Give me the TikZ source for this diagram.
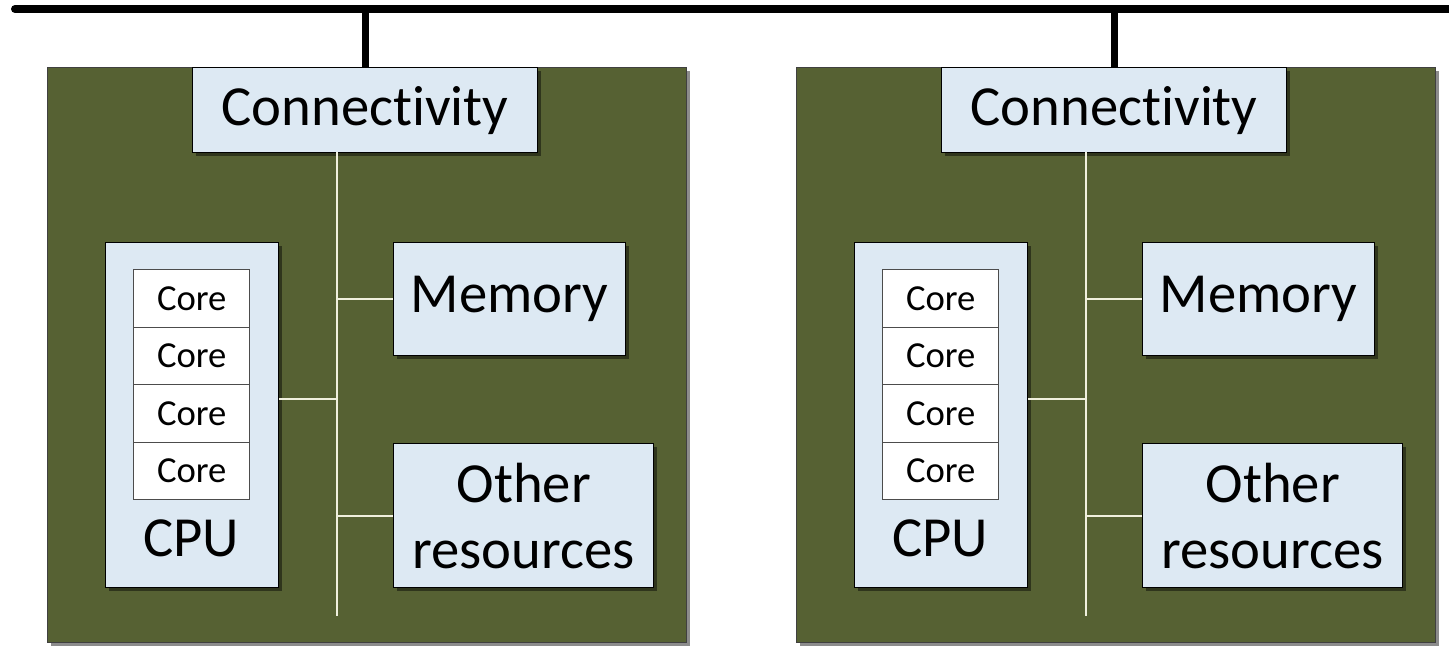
\documentclass[tikz,border=0pt]{standalone}
\usepackage{fontspec}
\setmainfont{Carlito}[Ligatures={NoCommon,NoContextual}]
\usetikzlibrary{shadows}
\definecolor{boardgreen}{RGB}{86,97,51}
\definecolor{partblue}{RGB}{221,233,243}
\definecolor{wirecream}{RGB}{240,240,222}
\begin{document}
\begin{tikzpicture}[x=0.75pt,y=-0.75pt,
  sz/.style 2 args={minimum width=#1*0.75pt, minimum height=#2*0.75pt, anchor=north west},
  shade/.style={drop shadow={shadow xshift=2.2pt, shadow yshift=-2.2pt, opacity=0.45, fill=black}},
  boardbox/.style={draw=black!75, line width=1pt, fill=boardgreen, shade, inner sep=0pt},
  partbox/.style={draw=black, line width=1pt, fill=partblue, shade, inner sep=0pt,
    align=center, font=\fontsize{42.5}{49.5}\selectfont},
  corebox/.style={draw=black!70, line width=1.1pt, fill=white, inner sep=0pt,
    font=\fontsize{27.5}{30}\selectfont},
  bigtext/.style={font=\fontsize{42.5}{49.5}\selectfont, inner sep=0pt},
  bus/.style={line width=6pt, line cap=round},
  drop/.style={line width=5pt},
  wire/.style={draw=wirecream, line width=1.6pt}]
\useasboundingbox (0,0) rectangle (1449,646);

% system bus along the top
\coordinate (busL) at (15,9);
\coordinate (busR) at (1470,9);
\draw[bus] (busL) -- (busR);

\foreach \i/\dx in {1/0,2/749}{
  \begin{scope}[xshift=\dx*0.75pt]
    % node board
    \node[boardbox, sz={639}{575}] (board\i) at (47,67) {};
    % CPU with its four cores
    \node[partbox, sz={173}{345}] (cpu\i) at (105,242) {};
    \foreach \k in {0,...,3}{
      \node[corebox, sz={116}{57.5}] (core\i-\k) at (133,269+57.5*\k) {Core};
    }
    \node[bigtext] (cpulabel\i) at (191,538) {CPU};
    % other parts of the node (separate t and i glyphs)
    \node[partbox, sz={345}{85}] (conn\i) at (192,67) {Connect\kern0pt ivity};
    \node[partbox, sz={232}{113}] (mem\i) at (393,242) {Memory};
    \node[partbox, sz={260}{144}] (other\i) at (393,443) {Other\\resources};
    % internal wiring
    \coordinate (spinetop\i) at (337,152);
    \coordinate (spinebot\i) at (337,616);
    \coordinate (cpujoin\i) at (337,399);
    \draw[wire] (spinetop\i) -- (spinebot\i);
    \draw[wire] (mem\i.west) -- (mem\i.west -| spinetop\i);
    \draw[wire] (other\i.west) -- (other\i.west -| spinetop\i);
    \draw[wire] (cpujoin\i) -- (cpujoin\i -| cpu\i.east);
    % link to the bus
    \draw[drop] (conn\i.north) -- (conn\i.north |- busL);
  \end{scope}
}
\end{tikzpicture}
\end{document}
